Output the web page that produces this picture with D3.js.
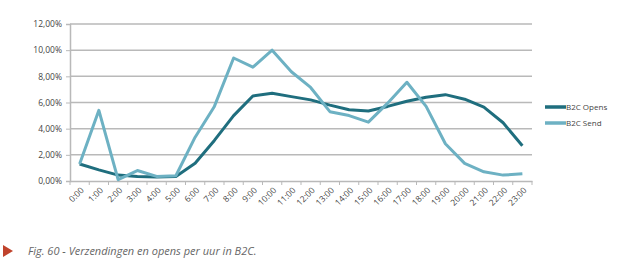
<!DOCTYPE html>
<html><head><meta charset="utf-8">
<script src="https://cdn.jsdelivr.net/npm/d3@7/dist/d3.min.js"></script>
<style>
body{margin:0;background:#fff;}
svg{display:block;font-family:"Open Sans","Noto Sans",sans-serif;}
</style></head>
<body><svg id="c" width="626" height="263"></svg>
<script>
const hours = ["0:00","1:00","2:00","3:00","4:00","5:00","6:00","7:00","8:00","9:00","10:00","11:00","12:00","13:00","14:00","15:00","16:00","17:00","18:00","19:00","20:00","21:00","22:00","23:00"];
const opens = [1.3,0.85,0.45,0.35,0.3,0.35,1.35,3.1,5.0,6.5,6.7,6.45,6.2,5.8,5.45,5.35,5.7,6.1,6.4,6.6,6.25,5.65,4.45,2.7];
const send  = [1.3,5.4,0.1,0.8,0.35,0.4,3.35,5.7,9.4,8.7,10.0,8.35,7.15,5.3,5.0,4.5,5.95,7.55,5.7,2.85,1.35,0.7,0.45,0.55];
const yTicks = [0,2,4,6,8,10,12];
const seriesNames = ["B2C Opens","B2C Send"];
const colors = ["#1f6e7e","#6db1c3"];
const caption = "Fig. 60 - Verzendingen en opens per uur in B2C.";

const svg = d3.select("#c");
const mL = 70, mR = 532, mT = 24, mB = 181;
const x = d3.scaleBand().domain(hours).range([mL, mR]);
const y = d3.scaleLinear().domain([0,12]).range([mB, mT]);
const fmt = v => d3.format(".2f")(v).replace(".", ",") + "%";

svg.append("g").selectAll("line").data(yTicks.filter(d=>d>0)).join("line")
  .attr("x1", mL).attr("x2", mR)
  .attr("y1", d=>y(d)).attr("y2", d=>y(d))
  .attr("stroke", "#b9b9b9").attr("stroke-width", 1.5);

const ya = svg.append("g").attr("transform", `translate(${mL},0)`)
  .call(d3.axisLeft(y).tickValues(yTicks).tickFormat(fmt).tickSize(4).tickPadding(4));
ya.select(".domain").attr("stroke", "#b9b9b9").attr("stroke-width", 1.5);
ya.selectAll(".tick line").attr("stroke", "#b9b9b9");
ya.selectAll("text").attr("fill", "#444").style("font-size", "8.5px").style("font-family", "'Open Sans',sans-serif");

const xa = svg.append("g").attr("transform", `translate(0,${mB})`)
  .call(d3.axisBottom(x).tickSize(0).tickPadding(0));
xa.select(".domain").attr("stroke", "#b9b9b9").attr("stroke-width", 1.5);
xa.selectAll(".tick line").remove();
svg.append("g").selectAll("line").data(hours.concat(["end"])).join("line")
  .attr("x1", (d,i)=> mL + i*x.step()).attr("x2", (d,i)=> mL + i*x.step())
  .attr("y1", mB).attr("y2", mB+4)
  .attr("stroke", "#b9b9b9");
xa.selectAll("text")
  .attr("fill", "#444").style("font-size", "8.5px").style("font-family", "'Open Sans',sans-serif")
  .attr("text-anchor", "end").attr("dy", "0.3em")
  .attr("transform", "translate(3,8) rotate(-45)");

const line = d3.line().x((d,i)=> x(hours[i]) + x.bandwidth()/2).y(d=>y(d));
[opens, send].forEach((s, k) => {
  svg.append("path").datum(s).attr("d", line)
    .attr("fill", "none").attr("stroke", colors[k]).attr("stroke-width", 3)
    .attr("stroke-linejoin", "round");
});

const lg = svg.append("g");
seriesNames.forEach((n, k) => {
  const yy = 107 + k*16;
  lg.append("line").attr("x1", 545).attr("x2", 566).attr("y1", yy).attr("y2", yy)
    .attr("stroke", colors[k]).attr("stroke-width", 3.5);
  lg.append("text").attr("x", 566).attr("y", yy).attr("dy", "0.35em")
    .attr("fill", "#444").style("font-size", "8px").text(n);
});

svg.append("path").attr("d", "M3,245 L13,251 L3,257 Z").attr("fill", "#c0432c");
svg.append("text").attr("x", 28).attr("y", 255)
  .attr("fill", "#666").style("font-size", "11px").style("font-style", "italic")
  .text(caption);
</script></body></html>
